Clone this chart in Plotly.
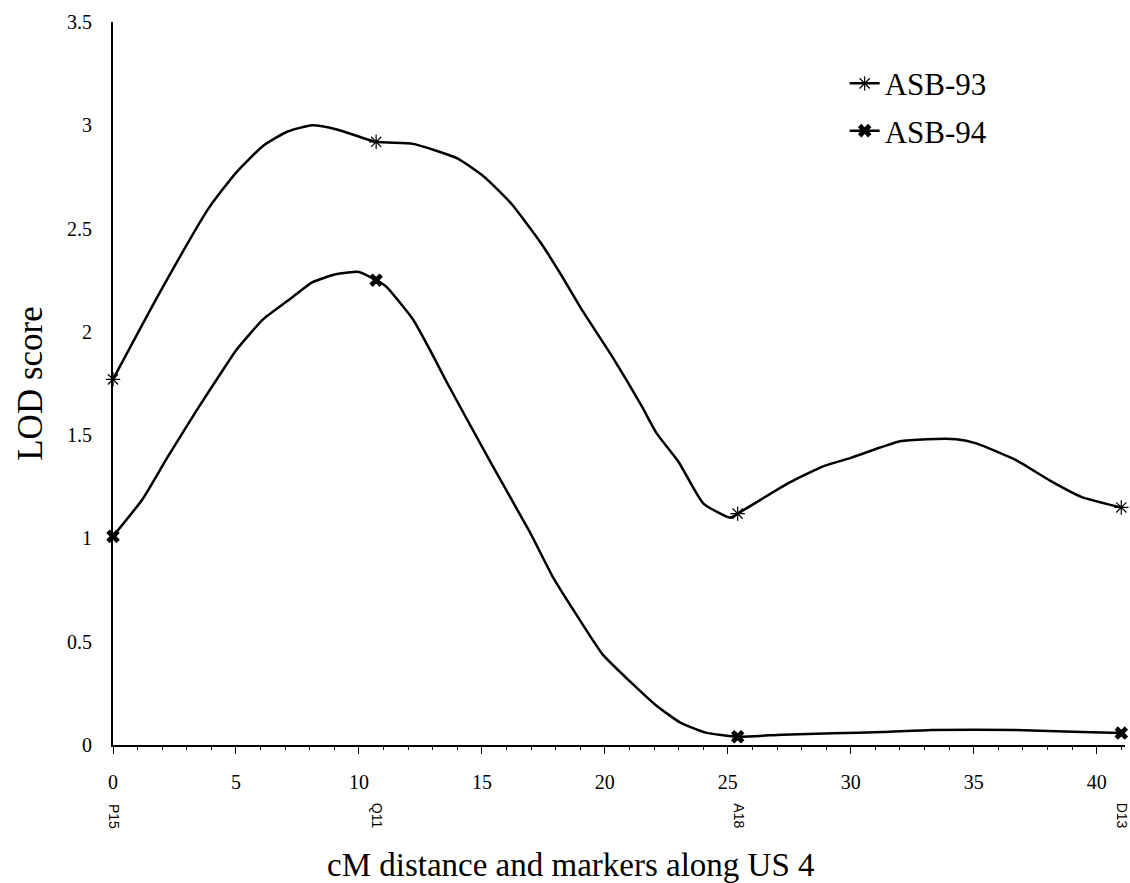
import plotly.graph_objects as go

# LOD profile (cM, LOD)
pos93 = [0, 1.9, 3.9, 5.0, 6.1, 7.1, 8.1, 9.1, 10.7, 12.2, 14.0, 15.1, 16.2, 17.4, 18.2,
         19.1, 20.3, 21.5, 22.1, 23.0, 24.0, 25.1, 25.4, 27.5, 28.9, 30.0, 32.0, 33.1,
         34.3, 35.1, 36.7, 38.1, 39.4, 41.0]
lod93 = [1.77, 2.19, 2.60, 2.77, 2.90, 2.97, 3.00, 2.98, 2.92, 2.91, 2.84, 2.75, 2.62, 2.43, 2.28,
         2.10, 1.88, 1.64, 1.51, 1.37, 1.17, 1.10, 1.12, 1.27, 1.35, 1.39, 1.47, 1.48,
         1.48, 1.46, 1.38, 1.28, 1.20, 1.15]
pos94 = [0, 1.2, 2.2, 3.4, 4.55, 5.0, 6.1, 7.1, 8.1, 9.1, 10.0, 10.7, 11.1, 12.2, 12.9, 13.6,
         15.3, 16.95, 17.9, 18.9, 19.9, 21.0, 22.1, 23.05, 24.1, 25.4, 27.2, 29.3,
         31.3, 33.3, 36.7, 39.4, 41.0]
lod94 = [1.01, 1.19, 1.39, 1.62, 1.83, 1.91, 2.06, 2.15, 2.24, 2.28, 2.29, 2.25, 2.22, 2.06, 1.91, 1.75,
         1.38, 1.03, 0.81, 0.62, 0.44, 0.31, 0.19, 0.11, 0.06, 0.04, 0.05, 0.057,
         0.063, 0.073, 0.073, 0.063, 0.058]

# genetic markers
marker_pos = [0, 10.7, 25.4, 41.0]
marker_names = ["P15", "Q11", "A18", "D13"]
asb93_at_markers = [1.77, 2.92, 1.12, 1.15]
asb94_at_markers = [1.01, 2.25, 0.04, 0.058]

x_ticks = [0, 5, 10, 15, 20, 25, 30, 35, 40]
y_ticks = [0, 0.5, 1, 1.5, 2, 2.5, 3, 3.5]
y_ticktext = ["0", "0.5", "1", "1.5", "2", "2.5", "3", "3.5"]

SERIF = "Liberation Serif, Times New Roman, serif"
SANS = "Liberation Sans, Arial, sans-serif"

sym93 = dict(symbol="asterisk-open", size=12, color="black", line=dict(color="black", width=1.2))
sym94 = dict(symbol="x", size=12, color="black", line=dict(width=0))
line_style = dict(color="black", width=2.5, shape="spline", smoothing=0.5)

fig = go.Figure()
for pos, lod in [(pos93, lod93), (pos94, lod94)]:
    fig.add_trace(go.Scatter(x=pos, y=lod, mode="lines", line=line_style,
                             showlegend=False, cliponaxis=False, hoverinfo="skip"))
for ys, mk in [(asb93_at_markers, sym93), (asb94_at_markers, sym94)]:
    fig.add_trace(go.Scatter(x=marker_pos, y=ys, mode="markers", marker=mk,
                             showlegend=False, cliponaxis=False))
for name, mk in [("ASB-93", sym93), ("ASB-94", sym94)]:
    fig.add_trace(go.Scatter(x=[None], y=[None], mode="lines+markers", name=name,
                             line=dict(color="black", width=2.5), marker=mk, legendgroup=name))

for xp, nm in zip(marker_pos, marker_names):
    fig.add_annotation(x=xp, y=0, xref="x", yref="y", text=nm, showarrow=False,
                       textangle=90, yshift=-71, xshift=1,
                       font=dict(family=SANS, size=14, color="black"))

fig.add_annotation(x=0.4526, y=-0.166, xref="paper", yref="paper",
                   xanchor="center", yanchor="middle", showarrow=False,
                   text="cM distance and markers along US 4",
                   font=dict(family=SERIF, size=33, color="black"))

fig.update_layout(
    width=1130, height=883,
    margin=dict(l=113, r=5, t=22, b=138),
    plot_bgcolor="white", paper_bgcolor="white",
    font=dict(family=SERIF, color="black"),
    showlegend=True,
    legend=dict(x=0.723, y=0.952, xanchor="left", yanchor="top",
                font=dict(family=SERIF, size=31, color="black"),
                bgcolor="rgba(0,0,0,0)", itemwidth=30,
                traceorder="grouped", tracegroupgap=4),
    xaxis=dict(range=[0, 41.15], tickmode="array", tickvals=x_ticks,
               showgrid=False, zeroline=False, showline=True, linecolor="black", linewidth=2,
               ticks="outside", ticklen=7, tickcolor="black", tickwidth=1,
               minor=dict(dtick=1, ticks="outside", ticklen=3, tickcolor="black", showgrid=False),
               ticklabelstandoff=11,
               tickfont=dict(family=SERIF, size=20, color="black")),
    yaxis=dict(range=[0, 3.5], tickmode="array", tickvals=y_ticks, ticktext=y_ticktext,
               showgrid=False, zeroline=False, showline=True, linecolor="black", linewidth=2,
               ticks="", ticklabelstandoff=15,
               tickfont=dict(family=SERIF, size=20, color="black"),
               title=dict(text="LOD score", standoff=14,
                          font=dict(family=SERIF, size=35, color="black"))),
)

fig.write_html("out.html")
